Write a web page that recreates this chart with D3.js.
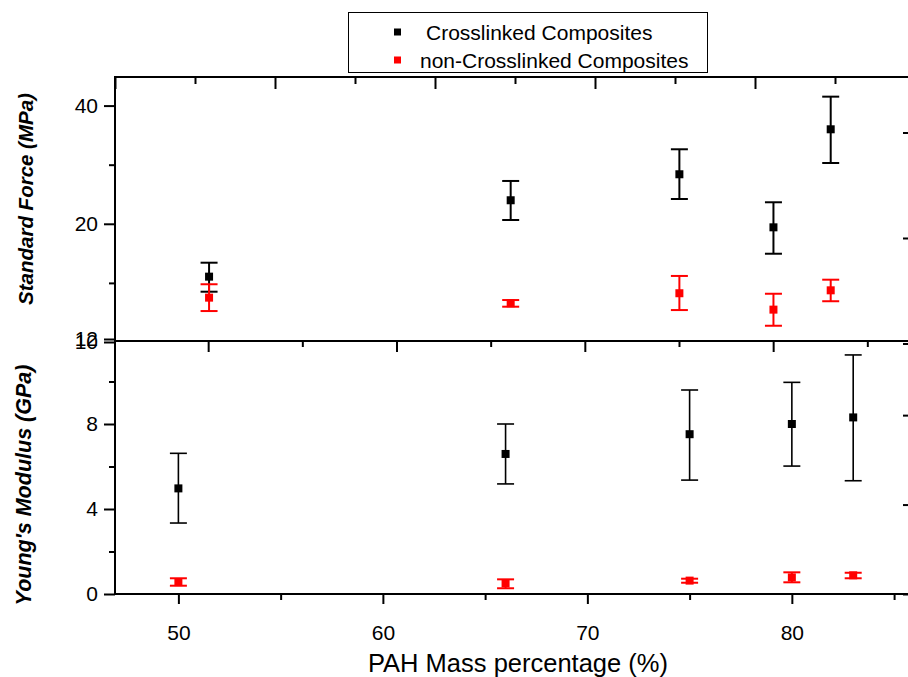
<!DOCTYPE html>
<html>
<head>
<meta charset="utf-8">
<script src="https://cdn.jsdelivr.net/npm/d3@7"></script>
<style>
  html, body { margin: 0; padding: 0; background: #fff; }
  svg { display: block; font-family: "Liberation Sans", Arial, sans-serif; }
</style>
</head>
<body>
<svg id="chart" width="908" height="677"></svg>
<script>
// ---------------- DATA ----------------
const seriesNames = ["Crosslinked Composites", "non-Crosslinked Composites"];
const seriesColors = ["#000000", "#ff0000"];

// Top panel: Standard Force (MPa)
const topX = [51.5, 66.25, 74.5, 79.1, 81.9];
const topCross = [14.67, 22.96, 26.74, 19.59, 34.81];
const topCrossLow = [13.43, 20.45, 23.13, 16.78, 28.57];
const topCrossHigh = [15.92, 25.71, 30.96, 22.69, 42.15];
const topNon = [12.97, 12.55, 13.31, 12.09, 13.54];
const topNonLow = [11.99, 12.30, 12.06, 11.00, 12.70];
const topNonHigh = [14.03, 12.79, 14.73, 13.27, 14.41];

// Bottom panel: Young's Modulus (GPa)
const botX = [50, 66, 75, 80, 83];
const botCross = [4.97, 6.59, 7.52, 8.00, 8.31];
const botCrossLow = [3.34, 5.18, 5.36, 6.02, 5.33];
const botCrossHigh = [6.62, 8.00, 9.60, 9.96, 11.25];
const botNon = [0.56, 0.50, 0.63, 0.78, 0.88];
const botNonLow = [0.39, 0.27, 0.53, 0.55, 0.74];
const botNonHigh = [0.74, 0.69, 0.72, 1.02, 1.00];

// Tick values
const xMajorTicks = [50, 60, 70, 80];
const xMinorTicks = [55, 65, 75, 85];
const topYMajor = [10, 20, 40];
const topYMinor = [14.142, 28.284];
const botYMajor = [0, 4, 8, 12];
const botYMinor = [2, 6, 10];

const xTitle = "PAH Mass percentage (%)";
const topYTitle = "Standard Force (MPa)";
const botYTitle = "Young's Modulus (GPa)";

// ---------------- LAYOUT ----------------
const L = 115, R = 908;
const topT = 77, topB = 342;
const botT = 339, botB = 594;

const svg = d3.select("#chart");

const x = d3.scaleLinear().domain([46.9, 85.68]).range([L, R]);
const yTop = d3.scaleLog().base(2).domain([10, 47.3]).range([topB, topT]);
const yBot = d3.scaleLinear().domain([0, 12]).range([botB, botT]);

// auxiliary frame-tick scales (top panel frame has its own tick spacing)
const topFrameTicks = d3.range(0, 10);
const topFrame = d3.scaleLinear().domain([0, 9.9125]).range([L, R]);
const midFrameTicks = d3.range(1, 9);
const midFrame = d3.scaleLinear().domain([0, 8.432]).range([114, R]);
const rightTopTicks = [0, 1, 2];
const rightTop = d3.scaleLinear().domain([0, 2.526]).range([343.5, 77]);
const rightBotTicks = [0, 1, 2];
const rightBot = d3.scaleLinear().domain([0, 2.84]).range([594, 340]);

const axisStroke = 2;
const tickFont = 21;
function styleAxis(g) {
  g.select(".domain").remove();
  g.selectAll(".tick line").attr("stroke", "#000").attr("stroke-width", axisStroke);
  g.selectAll(".tick text").attr("fill", "#000");
}

// ---------- Bottom x axis ----------
svg.append("g").attr("transform", `translate(0,${botB})`)
  .call(d3.axisBottom(x).tickValues(xMajorTicks).tickSize(10).tickPadding(21).tickFormat(d3.format("d")))
  .call(styleAxis)
  .call(g => g.selectAll(".tick text").attr("font-size", tickFont));
svg.append("g").attr("transform", `translate(0,${botB})`)
  .call(d3.axisBottom(x).tickValues(xMinorTicks).tickSize(6).tickFormat(""))
  .call(styleAxis);

// ---------- Top panel top frame ticks (inward) ----------
svg.append("g").attr("transform", `translate(0,${topT})`)
  .call(d3.axisBottom(topFrame).tickValues(topFrameTicks.filter(d => d % 2 === 0)).tickSize(12).tickFormat(""))
  .call(styleAxis);
svg.append("g").attr("transform", `translate(0,${topT})`)
  .call(d3.axisBottom(topFrame).tickValues(topFrameTicks.filter(d => d % 2 === 1)).tickSize(7).tickFormat(""))
  .call(styleAxis);

// ---------- Top panel bottom frame ticks (outward, down) ----------
svg.append("g").attr("transform", `translate(0,${topB - 1})`)
  .call(d3.axisBottom(midFrame).tickValues(midFrameTicks.filter(d => d % 2 === 1)).tickSize(11).tickFormat(""))
  .call(styleAxis);
svg.append("g").attr("transform", `translate(0,${topB - 1})`)
  .call(d3.axisBottom(midFrame).tickValues(midFrameTicks.filter(d => d % 2 === 0)).tickSize(6).tickFormat(""))
  .call(styleAxis);

// ---------- Right edge ticks ----------
svg.append("g").attr("transform", `translate(${R},0)`)
  .call(d3.axisLeft(rightTop).tickValues(rightTopTicks).tickSize(5).tickFormat(""))
  .call(styleAxis);
svg.append("g").attr("transform", `translate(${R},0)`)
  .call(d3.axisLeft(rightBot).tickValues(rightBotTicks).tickSize(5).tickFormat(""))
  .call(styleAxis);

// ---------- Left y axes ----------
svg.append("g").attr("transform", `translate(${L},0)`)
  .call(d3.axisLeft(yTop).tickValues(topYMajor).tickSize(11).tickPadding(6).tickFormat(d3.format("d")))
  .call(styleAxis)
  .call(g => g.selectAll(".tick text").attr("font-size", tickFont));
svg.append("g").attr("transform", `translate(${L},0)`)
  .call(d3.axisLeft(yTop).tickValues(topYMinor).tickSize(6).tickFormat(""))
  .call(styleAxis);
svg.append("g").attr("transform", `translate(${L},0)`)
  .call(d3.axisLeft(yBot).tickValues(botYMajor).tickSize(11).tickPadding(6).tickFormat(d3.format("d")))
  .call(styleAxis)
  .call(g => g.selectAll(".tick text").attr("font-size", tickFont));
svg.append("g").attr("transform", `translate(${L},0)`)
  .call(d3.axisLeft(yBot).tickValues(botYMinor).tickSize(6).tickFormat(""))
  .call(styleAxis);

// ---------- Frame lines ----------
const frame = svg.append("g").attr("stroke", "#000").attr("stroke-width", axisStroke);
frame.append("line").attr("x1", L).attr("x2", L).attr("y1", topT - 1).attr("y2", botB + 1);
frame.append("line").attr("x1", L).attr("x2", R).attr("y1", topT).attr("y2", topT);
frame.append("line").attr("x1", L).attr("x2", R).attr("y1", topB - 1).attr("y2", topB - 1);
frame.append("line").attr("x1", L).attr("x2", R).attr("y1", botB).attr("y2", botB);

// ---------- Data drawing ----------
function drawSeries(xs, vals, lows, highs, yScale, color, ms, capW, sw) {
  const g = svg.append("g");
  const data = xs.map((d, i) => ({ x: d, v: vals[i], lo: lows[i], hi: highs[i] }));
  const bars = g.selectAll("g.eb").data(data).join("g").attr("class", "eb")
    .attr("stroke", color).attr("stroke-width", sw);
  bars.append("line")
    .attr("x1", d => x(d.x)).attr("x2", d => x(d.x))
    .attr("y1", d => yScale(d.lo)).attr("y2", d => yScale(d.hi));
  bars.append("line")
    .attr("x1", d => x(d.x) - capW).attr("x2", d => x(d.x) + capW)
    .attr("y1", d => yScale(d.lo)).attr("y2", d => yScale(d.lo));
  bars.append("line")
    .attr("x1", d => x(d.x) - capW).attr("x2", d => x(d.x) + capW)
    .attr("y1", d => yScale(d.hi)).attr("y2", d => yScale(d.hi));
  g.selectAll("rect").data(data).join("rect")
    .attr("x", d => x(d.x) - ms / 2).attr("y", d => yScale(d.v) - ms / 2)
    .attr("width", ms).attr("height", ms).attr("fill", color);
}

drawSeries(topX, topCross, topCrossLow, topCrossHigh, yTop, seriesColors[0], 8, 8.5, 2);
drawSeries(topX, topNon, topNonLow, topNonHigh, yTop, seriesColors[1], 8, 8.5, 2);
drawSeries(botX, botCross, botCrossLow, botCrossHigh, yBot, seriesColors[0], 8, 8.5, 1.6);
drawSeries(botX, botNon, botNonLow, botNonHigh, yBot, seriesColors[1], 8, 8.5, 2);

// ---------- Axis titles ----------
svg.append("text")
  .attr("x", 518).attr("y", 672)
  .attr("text-anchor", "middle").attr("font-size", 25.5).attr("fill", "#000")
  .text(xTitle);
svg.append("text")
  .attr("transform", `translate(33,199) rotate(-90)`)
  .attr("text-anchor", "middle").attr("font-size", 20.5).attr("font-weight", "bold")
  .attr("font-style", "italic").attr("fill", "#000")
  .text(topYTitle);
svg.append("text")
  .attr("transform", `translate(31,485) rotate(-90)`)
  .attr("text-anchor", "middle").attr("font-size", 21.5).attr("font-weight", "bold")
  .attr("font-style", "italic").attr("fill", "#000")
  .text(botYTitle);

// ---------- Legend ----------
const leg = svg.append("g");
leg.append("rect").attr("x", 348.5).attr("y", 12.5).attr("width", 359).attr("height", 60)
  .attr("fill", "#fff").attr("stroke", "#000").attr("stroke-width", 1);
const legTextX = [426, 420];
const legY = [32, 60];
seriesNames.forEach((name, i) => {
  leg.append("rect").attr("x", 394).attr("y", legY[i] - 3.5).attr("width", 7).attr("height", 7)
    .attr("fill", seriesColors[i]);
  leg.append("text").attr("x", legTextX[i]).attr("y", legY[i] + 7.5)
    .attr("font-size", 21).attr("fill", "#000").text(name);
});
</script>
</body>
</html>
